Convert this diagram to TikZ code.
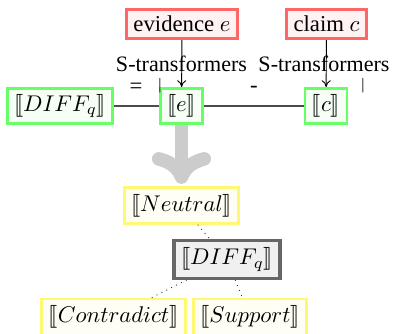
\documentclass[tikz,border=0pt]{standalone}
\usepackage{fontspec}
\setmainfont{Liberation Serif}
\usepackage{stmaryrd}
\usetikzlibrary{arrows.meta}
\begin{document}
\begin{tikzpicture}[x=0.44pt,y=-0.44pt,
  box/.style={rectangle, inner xsep=3pt, inner ysep=2pt, very thick},
  redbox/.style={box, draw=red!60, fill=red!5, minimum height=12.9pt},
  greenbox/.style={box, draw=green!60, fill=green!4, minimum height=15.5pt},
  yellowbox/.style={box, draw=yellow!55, fill=yellow!4, minimum height=15.8pt},
  graybox/.style={box, draw=black!60, fill=black!6, line width=1.4pt, minimum height=16.6pt},
  link/.style={black!70, semithick},
  feed/.style={-{To[length=3pt,width=4pt]}, black},
  tree/.style={dotted, black!80},
  frag/.style={inner sep=0pt},
  lab/.style={inner sep=0pt, font=\fontsize{9.7}{11}\selectfont}]
\useasboundingbox (0,0) rectangle (395,334);
% top sources
\node[redbox, minimum width=49pt] (ev) at (182,24) {evidence $e$};
\node[redbox, minimum width=35.3pt] (cl) at (326.5,24) {claim $c$};
% green row
\node[greenbox, minimum width=45.4pt] (dg) at (60,106) {$\llbracket DIFF_q\rrbracket$};
\node[greenbox, minimum width=18.6pt] (e) at (181.5,106) {$\llbracket e\rrbracket$};
\node[greenbox, minimum width=18.2pt] (c) at (326,106) {$\llbracket c\rrbracket$};
\draw[link] (dg) -- (e);
\draw[link] (e) -- (c);
\draw[feed] (ev) -- (e);
\draw[feed] (cl) -- (c);
% labels
\node[lab] (s1) at (181.5,64) {S-transformers};
\node[lab] (s2) at (324,64) {S-transformers};
\node[frag] (f1) at (136,88) {=};
\node[frag, font=\scriptsize] (f2) at (160,86) {|};
\node[frag] (f3) at (254,89) {-};
\node[frag, font=\scriptsize] (f4) at (363,86) {|};
% tree
\node[yellowbox, minimum width=50.3pt] (neu) at (181.5,205.5) {$\llbracket Neutral\rrbracket$};
\node[graybox, minimum width=46.6pt] (dq) at (227,259.5) {$\llbracket DIFF_q\rrbracket$};
\node[yellowbox, minimum width=62.6pt] (con) at (113.5,317) {$\llbracket Contradict\rrbracket$};
\node[yellowbox, minimum width=49.8pt] (sup) at (250,317) {$\llbracket Support\rrbracket$};
\draw[tree] (neu) -- (dq);
\draw[tree] (dq) -- (con);
\draw[tree] (dq) -- (sup);
% big arrow
\draw[line width=6pt, black!20, -{To[length=14pt,width=26pt,round]}, shorten >=1pt] (e) -- (neu);
\end{tikzpicture}
\end{document}
